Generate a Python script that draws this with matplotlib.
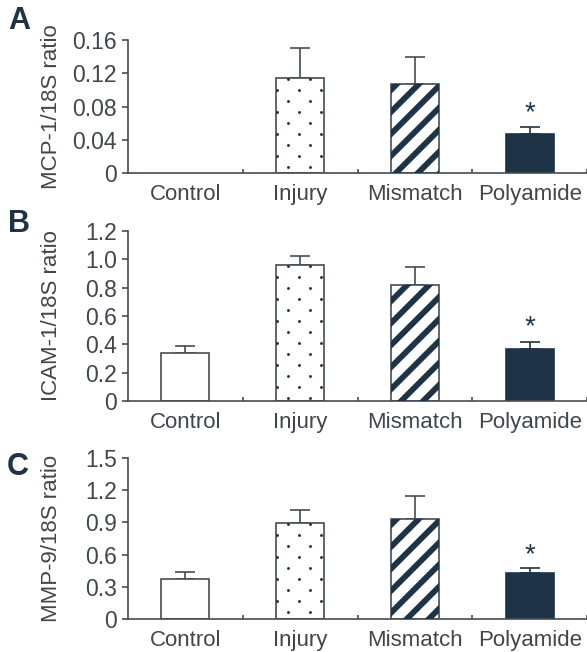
import numpy as np
import matplotlib
matplotlib.use("Agg")
from matplotlib import pyplot as plt

categories = ["Control", "Injury", "Mismatch", "Polyamide"]

mcp_mean = [0.0, 0.114, 0.107, 0.047]
mcp_err = [0.0, 0.036, 0.033, 0.008]
icam_mean = [0.34, 0.96, 0.82, 0.37]
icam_err = [0.045, 0.065, 0.125, 0.05]
mmp_mean = [0.37, 0.89, 0.93, 0.43]
mmp_err = [0.065, 0.125, 0.22, 0.045]

mcp_ticks = [0, 0.04, 0.08, 0.12, 0.16]
mcp_labels = ["0", "0.04", "0.08", "0.12", "0.16"]
icam_ticks = [0, 0.2, 0.4, 0.6, 0.8, 1.0, 1.2]
icam_labels = ["0", "0.2", "0.4", "0.6", "0.8", "1.0", "1.2"]
mmp_ticks = [0, 0.3, 0.6, 0.9, 1.2, 1.5]
mmp_labels = ["0", "0.3", "0.6", "0.9", "1.2", "1.5"]

NAVY = "#1f3347"
EDGE = "#474d55"
TEXT = "#41464c"

plt.rcParams["font.family"] = ["Liberation Sans", "DejaVu Sans"]

W, H = 587, 652
fig = plt.figure(figsize=(W / 100, H / 100), dpi=100)
fig.patch.set_facecolor("white")


def px_box(left, top, right, bottom):
    return [left / W, 1 - bottom / H, (right - left) / W, (bottom - top) / H]


def bar_px(ax, bar):
    (x0, y0), (x1, y1) = ax.transData.transform([(bar.get_x(), 0),
                                                 (bar.get_x() + bar.get_width(), bar.get_height())])
    return x0, y0, x1, y1


def stripes(ax, bar):
    # diagonal stripes drawn in pixel space, clipped to the bar outline
    inv = ax.transData.inverted()
    x0, y0, x1, y1 = bar_px(ax, bar)
    span = (x1 - x0) + (y1 - y0)
    for c in np.arange(-span, span, 22.0):
        p = inv.transform([(x0 - 10, y0 + c - 10), (x1 + 10, y0 + c + (x1 - x0) + 10)])
        ln, = ax.plot(p[:, 0], p[:, 1], color=NAVY, lw=4.2, solid_capstyle="butt", zorder=3)
        ln.set_clip_path(bar)


def dots(ax, bar):
    inv = ax.transData.inverted()
    x0, y0, x1, y1 = bar_px(ax, bar)
    pts = []
    step = 11.0
    for i, xx in enumerate(np.arange(x0 + 0.5, x1 + 1, step)):
        for j, yy in enumerate(np.arange(y1 - 1, y0 - 1, -step)):
            if (i + j) % 2 == 1:
                pts.append((xx, yy))
    pts = inv.transform(np.array(pts))
    ln, = ax.plot(pts[:, 0], pts[:, 1], "o", ms=2.1, color=NAVY, mec="none", zorder=3)
    ln.set_clip_path(bar)


def panel(box, ylabel, means, errs, ticks, labels, star_pt):
    ax = fig.add_axes(px_box(*box))
    ax.set_xlim(-0.5, 3.5)
    ax.set_ylim(0, ticks[-1])
    x = np.arange(len(categories))
    bars = ax.bar(x, means, width=0.42, color="white", edgecolor=EDGE, linewidth=1.2, zorder=2)
    bars[3].set_facecolor(NAVY)
    bars[3].set_edgecolor(NAVY)
    for i, (m, e) in enumerate(zip(means, errs)):
        if m <= 0:
            bars[i].set_visible(False)
            continue
        col = NAVY if i == 3 else EDGE
        ax.errorbar(x[i], m, yerr=[[0], [e]], fmt="none", ecolor=col,
                    elinewidth=1.2, capsize=7, capthick=1.2, zorder=1)
    stripes(ax, bars[2])
    dots(ax, bars[1])

    ax.annotate("*", (x[3], means[3] + errs[3]), xytext=(0, star_pt), textcoords="offset points",
                ha="center", va="baseline", fontsize=20, color=NAVY)

    for s in ("top", "right"):
        ax.spines[s].set_visible(False)
    for s in ("left", "bottom"):
        ax.spines[s].set_color(EDGE)
        ax.spines[s].set_linewidth(1.2)
    ax.set_yticks(ticks)
    ax.set_yticklabels(labels)
    ax.set_xticks(x)
    ax.set_xticklabels(categories)
    ax.set_xticks([0.5, 1.5, 2.5, 3.5], minor=True)
    ax.tick_params(axis="y", direction="out", length=4, width=1.2, color=EDGE,
                   labelsize=16.5, labelcolor=TEXT, pad=4)
    ax.tick_params(axis="x", which="major", length=0, labelsize=16, labelcolor=TEXT, pad=8)
    ax.tick_params(axis="x", which="minor", direction="in", length=3, width=1.2, color=EDGE)
    ax.set_ylabel(ylabel, fontsize=16, color=TEXT)
    ax.yaxis.set_label_coords(-(128 - 62) / (587 - 128), 0.5)
    return ax


panels = [
    ((128, 40, 587, 173), "MCP-1/18S ratio", mcp_mean, mcp_err, mcp_ticks, mcp_labels, 5),
    ((128, 231, 587, 401), "ICAM-1/18S ratio", icam_mean, icam_err, icam_ticks, icam_labels, 5),
    ((128, 458, 587, 619), "MMP-9/18S ratio", mmp_mean, mmp_err, mmp_ticks, mmp_labels, 4),
]
for box, ylabel, means, errs, ticks, labels, star in panels:
    panel(box, ylabel, means, errs, ticks, labels, star)

letters = ["A", "B", "C"]
letter_x = [8, 8, 7]
letter_y = [29, 232, 475]
for letter, lx, ly in zip(letters, letter_x, letter_y):
    fig.text(lx / W, 1 - ly / H, letter, fontsize=22, fontweight="bold", color=NAVY)

fig.savefig("out.png", dpi=100, facecolor="white")
